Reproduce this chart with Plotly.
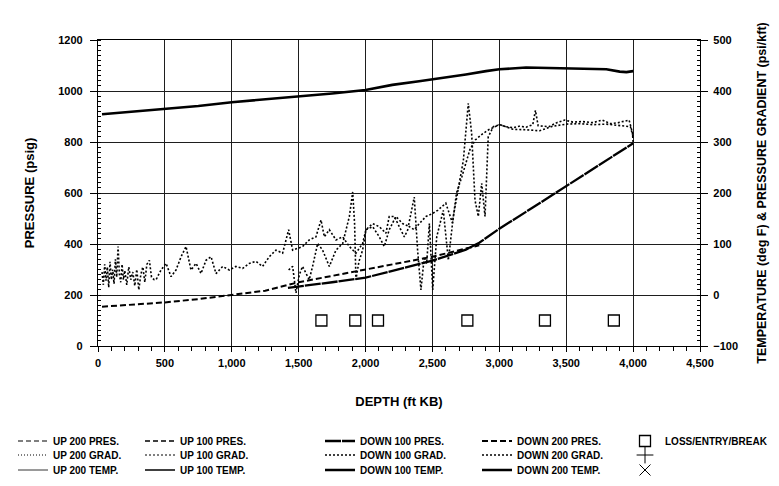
import plotly.graph_objects as go

# ---------------- data ----------------
# Temperature (deg F), right axis
temp_depth = [30, 250, 500, 750, 1000, 1250, 1500, 1750, 2000, 2200, 2400, 2500, 2600,
              2750, 2900, 3000, 3200, 3500, 3700, 3800, 3900, 3950, 4000]
temp_degf = [354.5, 359, 364, 370.5, 378, 383.5, 389, 395, 402, 412, 419, 422.5, 426,
             432.5, 439, 442.5, 446, 444.5, 444, 442.5, 438, 437, 439]

# Pressure (psig), left axis
pres_a_depth = [30, 250, 500, 750, 1000, 1250, 1500, 1750, 2000, 2250, 2500, 2750, 2850]
pres_a_psig = [154, 162, 171, 184, 200, 217, 250, 275, 300, 325, 350, 382, 395]

pres_b_depth = [1420, 1500, 1750, 2000, 2250, 2500, 2650, 2750, 2850, 3000, 3250, 3500, 3750, 4000]
pres_b_psig = [228, 234, 250, 268, 300, 335, 360, 378, 405, 460, 543, 627, 712, 795]

# Pressure gradient (psi/kft), right axis
grad_a_depth = [30, 40, 50, 60, 70, 80, 90, 100, 110, 120, 130, 140, 150, 160, 170, 180,
                190, 200, 215, 230, 245, 260, 275, 290, 305, 320, 335, 350, 365, 384, 400,
                420, 434, 471, 509, 546,
                583, 621, 658, 695, 733, 770, 807, 845, 882, 932, 982, 1031, 1081, 1131,
                1181, 1230, 1280, 1330, 1380, 1425, 1455, 1492, 1529, 1579, 1629, 1667,
                1692, 1729, 1779, 1829, 1879, 1928, 1978, 2003, 2053, 2103, 2152, 2177,
                2215, 2252, 2290, 2327, 2364, 2402, 2452, 2502, 2539, 2600, 2650, 2680,
                2720, 2780, 2820, 2870, 2920, 3000, 3050, 3100, 3150, 3200, 3250, 3270,
                3290, 3370, 3430, 3490, 3550, 3620, 3700, 3770, 3830, 3890, 3970, 3995, 4000]
grad_a_val = [45, 20, 60, 28, 55, 15, 65, 30, 50, 22, 70, 35, 95, 40, 25, 60,
              30, 48, 20, 55, 30, 45, 18, 50, 10, 40, 55, 25, 60, 68, 35,
              30, 30, 49, 62, 36,
              49, 75, 95, 49, 62, 42, 68, 75, 42, 56, 49, 56, 52, 62,
              66, 56, 75, 88, 82, 128, 88, 91, 95, 108, 114, 147,
              114, 128, 108, 114, 95, 82, 101, 128, 140, 134, 121, 154,
              154, 134, 114, 134, 128, 140, 154, 160, 166, 180, 141, 200,
              232, 285, 304, 315, 324, 334, 330, 328, 331, 329, 334, 362,
              332, 330, 338, 343, 339, 340, 338, 343, 336, 338, 343, 318, 300]

grad_b_depth = [1425, 1455, 1480, 1505, 1529, 1579, 1604, 1642, 1679, 1729, 1779, 1829,
                1879, 1904, 1918, 1928, 1950, 1978, 2003, 2053, 2103, 2140, 2177, 2227,
                2277, 2320, 2364, 2389, 2414, 2439, 2457, 2477, 2502, 2532, 2581, 2619,
                2656, 2693, 2731, 2768, 2793, 2818, 2843, 2868, 2893, 2917, 2955, 3005,
                3100, 3200, 3300, 3400, 3500, 3600, 3700, 3800, 3900, 3980, 4000]
grad_b_val = [49, 56, 4, 40, 56, 30, 56, 101, 88, 56, 88, 101,
              154, 202, 140, 30, 65, 88, 128, 134, 114, 95, 128, 154,
              140, 135, 192, 88, 10, 75, 62, 140, 10, 114, 166, 68,
              154, 206, 264, 376, 317, 186, 154, 219, 154, 310, 330, 334,
              325, 324, 322, 331, 335, 336, 334, 335, 332, 330, 310]

# Loss / entry / break markers (depth ft, plotted at pressure level psig)
loss_depth = [1670, 1923, 2093, 2761, 3341, 3856]
loss_level = [100, 100, 100, 100, 100, 100]

# runs with no visible curve of their own (legend entries only)
no_depth = [None]
no_value = [None]

# tick values
x_ticks = [0, 500, 1000, 1500, 2000, 2500, 3000, 3500, 4000, 4500]
y_left_ticks = [0, 200, 400, 600, 800, 1000, 1200]
y_right_ticks = [-100, 0, 100, 200, 300, 400, 500]

# ---------------- figure ----------------
# page has an 8px body margin; the figure is sized so that it fits the 779x486 window
OFF = 8
W, H = 779 - OFF, 486 - OFF
PL, PT, PR, PB = 98, 40, 700, 346          # plot area in window pixels
ML, MT = PL - OFF, PT - OFF
MR, MB = W - (PR - OFF), H - (PB - OFF)
PW, PH = PR - PL, PB - PT

FONT = "Liberation Sans, Arial, sans-serif"

fig = go.Figure()

# legend grid (window pixel positions of each legend cell)
col_x = [13, 140, 320, 477, 625]
row_y = [441, 455, 470]


def leg_id(k):
    return "legend" if k == 1 else f"legend{k}"


cell = {}
order = [
    ("UP 200 PRES.", 0, 0), ("UP 200 GRAD.", 0, 1), ("UP 200 TEMP.", 0, 2),
    ("UP 100 PRES.", 1, 0), ("UP 100 GRAD.", 1, 1), ("UP 100 TEMP.", 1, 2),
    ("DOWN 100 PRES.", 2, 0), ("DOWN 100 GRAD.", 2, 1), ("DOWN 100 TEMP.", 2, 2),
    ("DOWN 200 PRES.", 3, 0), ("DOWN 200 GRAD.", 3, 1), ("DOWN 200 TEMP.", 3, 2),
    ("LOSS/ENTRY/BREAK", 4, 0), ("PLUS", 4, 1), ("CROSS", 4, 2),
]
for k, (nm, c, r) in enumerate(order, start=1):
    cell[nm] = (leg_id(k), c, r)

PRES_DASH = "5px,3px"


def line_trace(name, x, y, yaxis, width, dash, color="black"):
    lid = cell[name][0]
    fig.add_trace(go.Scatter(
        x=x, y=y, name=name, mode="lines", yaxis=yaxis, legend=lid,
        line=dict(color=color, width=width, dash=dash), hoverinfo="skip"))


# runs shown in legend only
line_trace("UP 200 PRES.", no_depth, no_value, "y", 1.2, PRES_DASH)
line_trace("UP 200 GRAD.", no_depth, no_value, "y2", 1.0, "1px,2px")
line_trace("UP 200 TEMP.", no_depth, no_value, "y2", 0.8, "solid")
line_trace("UP 100 PRES.", no_depth, no_value, "y", 1.5, PRES_DASH)
line_trace("UP 100 GRAD.", no_depth, no_value, "y2", 1.0, "2px,2px")
line_trace("UP 100 TEMP.", no_depth, no_value, "y2", 1.3, "solid")
line_trace("DOWN 100 TEMP.", no_depth, no_value, "y2", 2.5, "solid")

# plotted runs
line_trace("DOWN 100 GRAD.", grad_b_depth, grad_b_val, "y2", 1.6, "2px,2px")
line_trace("DOWN 200 GRAD.", grad_a_depth, grad_a_val, "y2", 1.6, "2px,2px")
line_trace("DOWN 200 PRES.", pres_a_depth, pres_a_psig, "y", 2.0, "6px,3px")
line_trace("DOWN 100 PRES.", pres_b_depth, pres_b_psig, "y", 2.3, "16px,1px")
line_trace("DOWN 200 TEMP.", temp_depth, temp_degf, "y2", 2.6, "solid")

fig.add_trace(go.Scatter(
    x=loss_depth, y=loss_level, name="LOSS/ENTRY/BREAK", mode="markers", yaxis="y",
    legend=cell["LOSS/ENTRY/BREAK"][0],
    marker=dict(symbol="square-open", size=11, color="black", line=dict(width=1.3, color="black")),
    hoverinfo="skip"))
fig.add_trace(go.Scatter(
    x=no_depth, y=no_value, name=" ", mode="markers", yaxis="y", legend=cell["PLUS"][0],
    marker=dict(symbol="cross-thin-open", size=12, color="black", line=dict(width=1, color="black"))))
fig.add_trace(go.Scatter(
    x=no_depth, y=no_value, name=" ", mode="markers", yaxis="y", legend=cell["CROSS"][0],
    marker=dict(symbol="x-thin-open", size=11, color="black", line=dict(width=1, color="black"))))

legend_layout = {}
for nm, (lid, c, r) in cell.items():
    legend_layout[lid] = dict(
        x=(col_x[c] - PL) / PW, y=(PB - row_y[r]) / PH,
        xanchor="left", yanchor="middle", orientation="v",
        bgcolor="rgba(0,0,0,0)", borderwidth=0, itemwidth=30,
        font=dict(family=FONT, size=10, color="black", weight="bold"),
        tracegroupgap=0,
    )

axis_common = dict(
    showline=True, linecolor="black", linewidth=1.2,
    ticks="outside", tickcolor="black", tickwidth=1,
    tickfont=dict(family=FONT, size=11, color="black", weight="bold"),
    zeroline=False,
)

fig.update_layout(
    width=W, height=H,
    margin=dict(l=ML, r=MR, t=MT, b=MB, autoexpand=False),
    paper_bgcolor="white", plot_bgcolor="white",
    font=dict(family=FONT, size=11, color="black"),
    showlegend=True,
    xaxis=dict(
        range=[0, 4500], tickvals=x_ticks, tickformat=",d", ticklen=5,
        ticklabelstandoff=2,
        showgrid=True, gridcolor="#1e1e1e", gridwidth=1, mirror=True,
        minor=dict(dtick=100, ticks="outside", ticklen=4, tickcolor="black", showgrid=False),
        title=dict(text="DEPTH (ft KB)", standoff=28,
                   font=dict(family=FONT, size=13, color="black", weight="bold")),
        **axis_common,
    ),
    yaxis=dict(
        range=[0, 1200], tickvals=y_left_ticks, ticklen=7, ticklabelstandoff=5,
        showgrid=True, gridcolor="#1e1e1e", gridwidth=1,
        minor=dict(dtick=20, ticks="inside", ticklen=3, tickcolor="black", showgrid=False),
        title=dict(text="PRESSURE (psig)", standoff=20,
                   font=dict(family=FONT, size=13, color="black", weight="bold")),
        **axis_common,
    ),
    yaxis2=dict(
        range=[-100, 500], tickvals=y_right_ticks, ticklen=7, ticklabelstandoff=3,
        overlaying="y", side="right", showgrid=False,
        minor=dict(dtick=10, ticks="inside", ticklen=3, tickcolor="black", showgrid=False),
        title=dict(text="TEMPERATURE (deg F) &amp; PRESSURE GRADIENT (psi/kft)", standoff=20,
                   font=dict(family=FONT, size=12.5, color="black", weight="bold")),
        **axis_common,
    ),
    **legend_layout,
)

fig.write_html("out.html")
